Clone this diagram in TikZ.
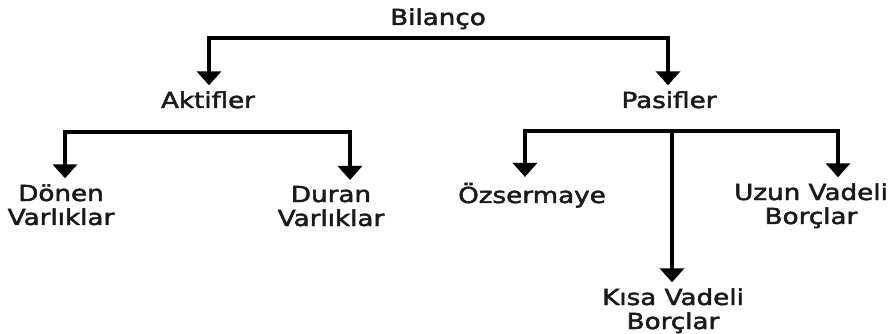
\documentclass[tikz,border=0pt]{standalone}
\usepackage{fontspec}
\setmainfont{DejaVu Sans}
\newfontfamily\lblfont[FakeBold=2]{DejaVu Sans}
\usepackage{tikz}
\usetikzlibrary{arrows.meta}
\definecolor{inkblack}{RGB}{26, 26, 26}

\begin{document}
\begin{tikzpicture}[
    x=1pt, y=-1pt,
    lbl/.style={font=\lblfont\fontsize{22}{24}\selectfont, text=inkblack, align=center,
        inner sep=0pt, outer sep=6pt, xscale=1.19, anchor=base},
    arrow/.style={-{Triangle[length=14pt, width=24pt]}, line width=3.8pt, draw=black},
    fork/.style={{Triangle[length=14pt, width=24pt]}-{Triangle[length=14pt, width=24pt]},
        line width=3.8pt, draw=black, line join=miter}
]
\useasboundingbox (0,0) rectangle (895,334);
% anchor=base of a two-line node sits on its last line
\node[lbl] (bilanco) at (438,25) {Bilanço};
\node[lbl] (aktif) at (208,108) {Aktifler};
\node[lbl] (pasif) at (669,108) {Pasifler};
\node[lbl] (donen) at (61,225) {Dönen\\Varlıklar};
\node[lbl] (duran) at (331,226) {Duran\\Varlıklar};
\node[lbl] (ozser) at (532,203) {Özsermaye};
\node[lbl] (uzun) at (811,224) {Uzun Vadeli\\Borçlar};
\node[lbl] (kisa) at (673,329) {Kısa Vadeli\\Borçlar};
% junction points of the bars
\coordinate (b1) at (209,38);
\coordinate (b2) at (668,38);
\coordinate (l1) at (65,132);
\coordinate (l2) at (350,132);
\coordinate (r1) at (525,131);
\coordinate (r2) at (672,131);
\coordinate (r3) at (838,131);
\draw[fork] (b1 |- aktif.north) -- (b1) -- (b2) -- (b2 |- pasif.north);
\draw[fork] (l1 |- donen.north) -- (l1) -- (l2) -- (l2 |- duran.north);
\draw[fork] (r1 |- ozser.north) -- (r1) -- (r3) -- (r3 |- uzun.north);
\draw[arrow] (r2) -- (r2 |- kisa.north);
\end{tikzpicture}
\end{document}
